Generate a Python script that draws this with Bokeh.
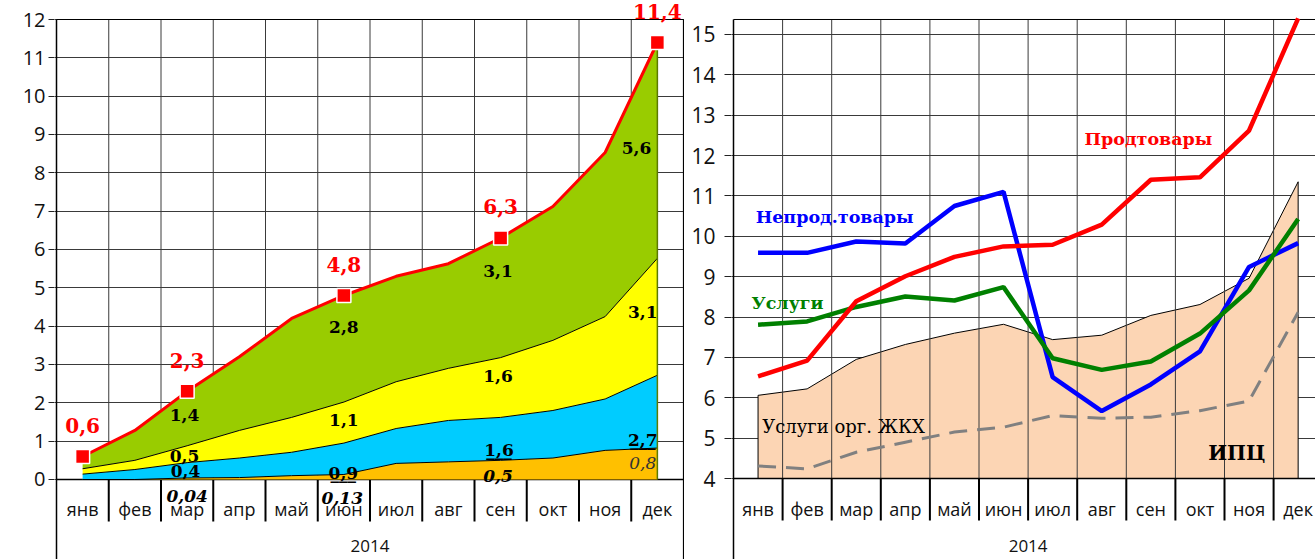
import numpy as np
from bokeh.plotting import figure
from bokeh.models import ColumnDataSource, FixedTicker, Label, Range1d
from bokeh.core.properties import value
from bokeh.layouts import row
from bokeh.embed import file_html
from bokeh.resources import INLINE

# ---------------- data ----------------
months = ["янв", "фев", "мар", "апр", "май", "июн", "июл", "авг", "сен", "окт", "ноя", "дек"]
year_label = "2014"

# left chart: contributions (stacked), % since start of year
contrib_orange = [0.0, 0.0, 0.04, 0.05, 0.10, 0.13, 0.42, 0.46, 0.50, 0.56, 0.76, 0.82]
contrib_cyan = [0.14, 0.26, 0.40, 0.51, 0.61, 0.82, 0.91, 1.08, 1.12, 1.24, 1.34, 1.90]
contrib_yellow = [0.14, 0.24, 0.44, 0.72, 0.91, 1.07, 1.22, 1.36, 1.56, 1.83, 2.15, 3.05]
contrib_green = [0.32, 0.78, 1.42, 1.92, 2.58, 2.78, 2.75, 2.73, 3.12, 3.49, 4.28, 5.63]
marked_months = [0, 2, 5, 8, 11]

layer_texts = ["1,4", "0,5", "0,4", "0,04", "2,8", "1,1", "0,9", "0,13",
               "3,1", "1,6", "1,6", "0,5", "5,6", "3,1", "2,7", "0,8"]
layer_text_x = [1.95, 1.95, 1.97, 2.0, 5.0, 5.0, 4.99, 4.97,
                7.95, 7.95, 7.97, 7.95, 10.6, 10.72, 10.72, 10.72]
layer_text_y = [1.67, 0.6, 0.23, -0.42, 3.97, 1.54, 0.16, -0.47,
                5.43, 2.71, 0.76, 0.1, 8.66, 4.36, 1.04, 0.42]
layer_text_style = ["bold", "bold", "bold", "bold italic", "bold", "bold", "bold", "bold italic",
                    "bold", "bold", "bold", "bold italic", "bold", "bold", "bold", "italic"]
layer_text_underline = [False, False, False, False, False, False, True, False,
                        False, False, True, False, False, False, True, False]

# right chart: annual inflation by group, %
ipc = [6.06, 6.22, 6.95, 7.32, 7.60, 7.82, 7.44, 7.55, 8.04, 8.31, 8.96, 11.35]
food = [6.53, 6.92, 8.39, 9.01, 9.49, 9.75, 9.79, 10.29, 11.40, 11.46, 12.62, 15.40]
nonfood = [9.59, 9.59, 9.87, 9.82, 10.75, 11.10, 6.51, 5.67, 6.33, 7.15, 9.24, 9.83]
services = [7.81, 7.89, 8.25, 8.51, 8.41, 8.74, 6.98, 6.69, 6.90, 7.59, 8.66, 10.43]
housing = [4.31, 4.24, 4.65, 4.90, 5.15, 5.27, 5.56, 5.49, 5.52, 5.68, 5.92, 8.12]

right_texts = ["Продтовары", "Непрод.товары", "Услуги", "Услуги орг. ЖКХ", "ИПЦ"]
right_text_x = [7.95, 1.56, 0.6, 1.74, 9.75]
right_text_y = [12.42, 10.47, 8.34, 5.29, 4.62]
right_text_color = ["#FF0000", "#0000FF", "#008000", "#000000", "#000000"]
right_text_style = ["bold", "bold", "bold", "normal", "bold"]
right_text_size = ["17.5px", "17.5px", "17.5px", "18px", "20px"]

left_yticks = list(range(0, 13))
right_yticks = list(range(4, 16))

# ---------------- helpers ----------------
x = list(range(len(months)))
boundaries = [i - 0.5 for i in range(len(months) + 1)]
inner_bounds = boundaries[1:-1]
SERIF = "DejaVu Serif"
SANS = "Open Sans"
GRID = "#3a3a3a"


def base_style(p, yticks, ylabel_size, tick_out, standoff):
    p.xaxis.visible = False
    p.yaxis.ticker = FixedTicker(ticks=yticks)
    p.yaxis.minor_tick_line_color = None
    p.yaxis.major_tick_in = 0
    p.yaxis.major_tick_out = tick_out
    p.yaxis.major_tick_line_color = "#222222"
    p.yaxis.major_label_standoff = standoff
    p.yaxis.major_label_text_font = SANS
    p.yaxis.major_label_text_font_size = ylabel_size
    p.yaxis.major_label_text_color = "#111111"
    p.yaxis.axis_line_color = None
    p.xgrid.visible = False
    p.ygrid.ticker = FixedTicker(ticks=yticks)
    p.ygrid.grid_line_color = GRID
    p.ygrid.grid_line_alpha = 1
    p.ygrid.grid_line_width = 1
    p.outline_line_color = None
    p.background_fill_color = "white"
    p.border_fill_color = "white"


def category_axis(p, y_axis, y_top, y_bottom, px_per_unit):
    """Draw the category axis (inside the frame so that labels below it stay visible)."""
    sep_len = 42 / px_per_unit
    p.segment(x0=inner_bounds, y0=[y_axis] * len(inner_bounds), x1=inner_bounds,
              y1=[y_top] * len(inner_bounds), color=GRID, line_width=1)
    p.segment(x0=inner_bounds, y0=[y_axis] * len(inner_bounds), x1=inner_bounds,
              y1=[y_axis - sep_len] * len(inner_bounds), color="black", line_width=2)
    p.segment(x0=[boundaries[0]], y0=[y_bottom], x1=[boundaries[0]], y1=[y_top],
              color="black", line_width=1.5)
    p.segment(x0=[boundaries[0]], y0=[y_axis], x1=[boundaries[-1]], y1=[y_axis],
              color="black", line_width=1.5)
    p.segment(x0=[boundaries[0]], y0=[y_top], x1=[boundaries[-1]], y1=[y_top],
              color="black", line_width=1)
    p.text(x=x, y=[y_axis - 30 / px_per_unit] * len(x), text=months, text_align="center",
           text_baseline="middle", text_font=value(SANS), text_font_size="18px",
           text_color="#111111")
    p.text(x=[(boundaries[0] + boundaries[-1]) / 2], y=[y_axis - 67 / px_per_unit],
           text=[year_label], text_align="center", text_baseline="middle",
           text_font=value(SANS), text_font_size="17px", text_color="#111111")


# ---------------- left chart ----------------
L_UNIT_X = 52.25
L_UNIT_Y = 38.33
p1 = figure(width=684, height=559, title=None,
            x_range=Range1d(-0.5 - 2 / L_UNIT_X, 11.5 + 1 / L_UNIT_X),
            y_range=Range1d(-80 / L_UNIT_Y, 12 + 19 / L_UNIT_Y),
            output_backend="svg", toolbar_location=None,
            min_border_left=54, min_border_right=0, min_border_top=0, min_border_bottom=0)
base_style(p1, left_yticks, "20px", 6, 3)

total = np.sum([contrib_orange, contrib_cyan, contrib_yellow, contrib_green], axis=0)
src = ColumnDataSource(dict(x=x, o=contrib_orange, c=contrib_cyan, yl=contrib_yellow,
                            g=contrib_green, total=total))
category_axis(p1, 0, 12, -80 / L_UNIT_Y, L_UNIT_Y)
p1.segment(x0=[boundaries[-1]], y0=[-80 / L_UNIT_Y], x1=[boundaries[-1]], y1=[12],
           color="black", line_width=1.2)
p1.varea_stack(["o", "c", "yl", "g"], x="x", source=src,
               color=["#FFC000", "#00CCFF", "#FFFF00", "#99CC00"])
p1.vline_stack(["o", "c", "yl"], x="x", source=src, color=["black", "black", "black"],
               line_width=1)
p1.segment(x0=[x[-1]], y0=[0], x1=[x[-1]], y1=[float(total[-1])], color="#5c7a00",
           line_width=1.5)
p1.line("x", "total", source=src, color="#FF0000", line_width=3)
mx = [x[i] for i in marked_months]
my = [float(total[i]) for i in marked_months]
p1.scatter(mx, my, marker="square", size=14, fill_color="#FF0000", line_color="white",
           line_width=1.5)
for xi, yi in zip(mx, my):
    p1.add_layout(Label(x=xi, y=yi, y_offset=31, text=f"{yi:.1f}".replace(".", ","),
                        text_align="center", text_baseline="middle", text_font=SERIF,
                        text_font_size="20px", text_font_style="bold", text_color="#FF0000"))
for t, lx, ly, st, ul in zip(layer_texts, layer_text_x, layer_text_y, layer_text_style,
                             layer_text_underline):
    col = "#333333" if st == "italic" else "black"
    p1.add_layout(Label(x=lx, y=ly, text=t, text_align="center", text_baseline="middle",
                        text_font=SERIF, text_font_size="17px", text_font_style=st,
                        text_color=col))
    if ul:
        p1.add_layout(Label(x=lx, y=ly, text="___", text_align="center",
                            text_baseline="middle", text_font=SERIF, text_font_size="17px",
                            text_font_style="bold", text_color=col))

# ---------------- right chart ----------------
R_UNIT_X = 49.1
R_UNIT_Y = 40.37
r_x0 = -0.5 - 2 / R_UNIT_X
r_top = 15.37
p2 = figure(width=631, height=559, title=None,
            x_range=Range1d(r_x0, r_x0 + 584 / R_UNIT_X),
            y_range=Range1d(4 - 81 / R_UNIT_Y, r_top + 19 / R_UNIT_Y),
            output_backend="svg", toolbar_location=None,
            min_border_left=47, min_border_right=0, min_border_top=0, min_border_bottom=0)
base_style(p2, right_yticks, "21px", 7, 9)

ymin = right_yticks[0]
p2.patch([x[0]] + x + [x[-1]], [ymin] + ipc + [ymin], fill_color="#FCD5B4",
         line_color="black", line_width=1)
category_axis(p2, ymin, r_top, 4 - 81 / R_UNIT_Y, R_UNIT_Y)
p2.line(x, housing, color="#808080", line_width=3, line_dash="18 10")
p2.line(x, nonfood, color="#0000FF", line_width=4.5)
p2.line(x, services, color="#008000", line_width=4.5)
p2.line(x, food, color="#FF0000", line_width=4.5)
for t, lx, ly, c, st, fs in zip(right_texts, right_text_x, right_text_y, right_text_color,
                                right_text_style, right_text_size):
    p2.add_layout(Label(x=lx, y=ly, text=t, text_align="center", text_baseline="middle",
                        text_font=SERIF, text_font_size=fs, text_font_style=st,
                        text_color=c))

layout = row(p1, p2)
open("out.html", "w").write(file_html(layout, INLINE))
